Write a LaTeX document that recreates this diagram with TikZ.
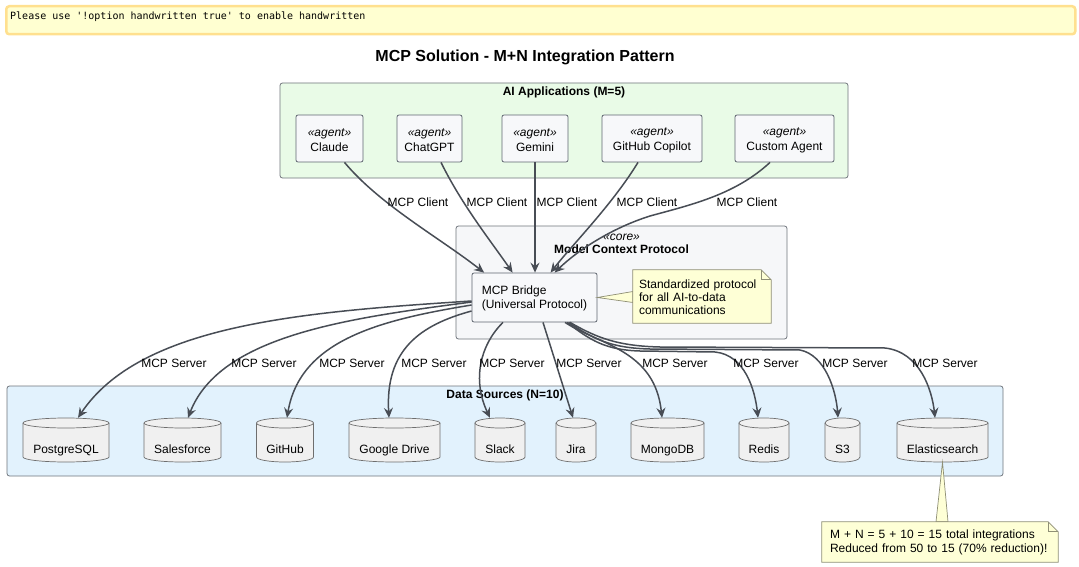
\documentclass[tikz,border=0pt]{standalone}
\usepackage{fontspec}
\setmainfont{Liberation Sans}
\newfontfamily\bannermono{DejaVu Sans Mono}
\usetikzlibrary{arrows.meta}
\definecolor{bannerfill}{HTML}{FFFFD1}
\definecolor{bannerline}{HTML}{FFE08F}
\definecolor{aifill}{HTML}{E9FBE7}
\definecolor{corefill}{HTML}{F6F7F9}
\definecolor{dsfill}{HTML}{E2F2FD}
\definecolor{grpline}{HTML}{70757C}
\definecolor{agentfill}{HTML}{F7F8FA}
\definecolor{agentline}{HTML}{5F6670}
\definecolor{dbfill}{HTML}{F0F0F0}
\definecolor{dbline}{HTML}{6E6E6E}
\definecolor{notefill}{HTML}{FEFFD6}
\definecolor{noteline}{HTML}{8F8F75}
\definecolor{edgecol}{HTML}{484D55}
\newcommand\dbcyl[4]{%
 \pgfmathsetmacro\dbL{#2-#3/2}\pgfmathsetmacro\dbR{#2+#3/2}%
 \pgfmathsetmacro\dbK{#3/2*0.5523}%
 \pgfmathsetmacro\dbA{#2-\dbK}\pgfmathsetmacro\dbB{#2+\dbK}%
 \filldraw[dbs] (\dbL,423) -- (\dbL,457) .. controls (\dbL,459.76) and (\dbA,462) .. (#2,462) .. controls (\dbB,462) and (\dbR,459.76) .. (\dbR,457) -- (\dbR,423) .. controls (\dbR,420.24) and (\dbB,418) .. (#2,418) .. controls (\dbA,418) and (\dbL,420.24) .. (\dbL,423) -- cycle;
 \draw[dbs] (\dbL,423) .. controls (\dbL,425.76) and (\dbA,428) .. (#2,428) .. controls (\dbB,428) and (\dbR,425.76) .. (\dbR,423);
 \node[dbtext, minimum width=#3] (#1) at (#2,440) {#4};
}
\begin{document}
\begin{tikzpicture}[x=1pt,y=-1pt,
  grp/.style={draw=grpline, line width=0.8pt, rounded corners=2.5pt, inner sep=0pt},
  grptitle/.style={font=\fontsize{12}{14}\selectfont\bfseries, inner sep=0pt},
  agent/.style={draw=agentline, fill=agentfill, line width=0.8pt, rounded corners=2pt, minimum height=47, align=center, inner sep=0pt, font=\fontsize{12}{15}\selectfont},
  agenttext/.style={align=center, inner sep=0pt, font=\fontsize{12}{15}\selectfont},
  dbs/.style={draw=dbline, fill=dbfill, line width=0.7pt},
  dbtext/.style={font=\fontsize{12}{14}\selectfont, text height=28.5pt, text depth=1.5pt, inner ysep=7pt, inner xsep=0pt},
  notebox/.style={font=\fontsize{12}{13}\selectfont, align=left, inner ysep=0pt},
  noteshape/.style={draw=noteline, fill=notefill, line width=0.7pt},
  conn/.style={draw=edgecol, line width=1.5pt, -{Stealth[length=10pt,width=9pt,inset=3.5pt]}},
  lbl/.style={font=\fontsize{12}{14}\selectfont, inner sep=0pt}
]
\path[fill=white] (0,0) rectangle (1079,567);
\useasboundingbox (0,0) rectangle (1079,567);

% banner
\node[draw=bannerline, fill=bannerfill, line width=2.5pt, rounded corners=3pt, minimum width=1069, minimum height=28, anchor=north west, inner sep=0pt] (banner) at (5,5) {};
\node[anchor=west, inner sep=0pt, font=\bannermono\fontsize{10}{12}\selectfont] (bannertext) at (10,17) {Please use '!option handwritten true' to enable handwritten};

% title
\node[font=\fontsize{16}{19}\selectfont\bfseries, inner sep=0pt] (title) at (525,57) {MCP Solution - M+N Integration Pattern};

% groups
\node[grp, fill=aifill, minimum width=568, minimum height=95] (ai) at (564,130.5) {};
\node[grptitle] (aititle) at (564,92.5) {AI Applications (M=5)};
\node[grp, fill=corefill, minimum width=331, minimum height=113] (core) at (621.5,282.5) {};
\node[grptitle, font=\fontsize{12}{14}\selectfont\itshape] (corest) at (621.5,237) {«core»};
\node[grptitle] (coretitle) at (621.5,249) {Model Context Protocol};
\node[grp, fill=dsfill, minimum width=996, minimum height=90] (ds) at (505,431) {};
\node[grptitle] (dstitle) at (505,395.5) {Data Sources (N=10)};

% agents
\node[agent, minimum width=67] (claude) at (329.5,138.5) {};
\node[agenttext] (claudet) at ([yshift=-1.5pt]claude.center) {\textit{«agent»}\\Claude};
\node[agent, minimum width=65] (chatgpt) at (429.5,138.5) {};
\node[agenttext] (chatgptt) at ([yshift=-1.5pt]chatgpt.center) {\textit{«agent»}\\ChatGPT};
\node[agent, minimum width=66] (gemini) at (535,138.5) {};
\node[agenttext] (geminit) at ([yshift=-1.5pt]gemini.center) {\textit{«agent»}\\Gemini};
\node[agent, minimum width=100] (copilot) at (652,138.5) {};
\node[agenttext] (copilott) at ([yshift=-1.5pt]copilot.center) {\textit{«agent»}\\GitHub Copilot};
\node[agent, minimum width=99] (custom) at (784.5,138.5) {};
\node[agenttext] (customt) at ([yshift=-1.5pt]custom.center) {\textit{«agent»}\\Custom Agent};

% bridge
\node[agent, minimum width=125, minimum height=49, align=left] (bridge) at (534.5,297.5) {};
\node[agenttext, align=left, font=\fontsize{12}{14}\selectfont] (bridget) at ([yshift=-1pt]bridge.center) {MCP Bridge\\(Universal Protocol)};

% note 1
\path[noteshape] (bridge.east) -- (633,291.5) -- (633,302.5) -- cycle;
\node[notebox, text width=126pt, inner xsep=6pt, minimum height=53] (n1) at (702,296.5) {};
\path[noteshape] (n1.north west) -- ([xshift=-10pt]n1.north east) -- ([yshift=-10pt]n1.north east) -- (n1.south east) -- (n1.south west) -- cycle;
\draw[noteshape, fill=none] ([xshift=-10pt]n1.north east) -- ([xshift=-10pt,yshift=-10pt]n1.north east) -- ([yshift=-10pt]n1.north east);
\node[notebox, text width=126pt, inner xsep=6pt, minimum height=53] (n1t) at ([yshift=-1pt]n1.center) {Standardized protocol\\for all AI-to-data\\communications};

% databases
\dbcyl{pg}{66}{86}{PostgreSQL}
\dbcyl{sf}{182.5}{77}{Salesforce}
\dbcyl{gh}{285}{57}{GitHub}
\dbcyl{gd}{394.5}{91}{Google Drive}
\dbcyl{sl}{500}{50}{Slack}
\dbcyl{ji}{576}{40}{Jira}
\dbcyl{mo}{667.5}{73}{MongoDB}
\dbcyl{re}{764}{50}{Redis}
\dbcyl{sss}{842.5}{35}{S3}
\dbcyl{es}{942.5}{91}{Elasticsearch}

% note 2
\node[notebox, text width=220pt, inner xsep=8pt, minimum height=40, font=\fontsize{12}{14}\selectfont] (n2) at (940,542) {};
\path[noteshape] (es.south) -- ([xshift=-4pt]n2.north) -- ([xshift=8pt]n2.north) -- cycle;
\path[noteshape] (n2.north west) -- ([xshift=-10pt]n2.north east) -- ([yshift=-10pt]n2.north east) -- (n2.south east) -- (n2.south west) -- cycle;
\draw[noteshape, fill=none] ([xshift=-10pt]n2.north east) -- ([xshift=-10pt,yshift=-10pt]n2.north east) -- ([yshift=-10pt]n2.north east);
\node[notebox, text width=220pt, inner xsep=8pt, minimum height=40, font=\fontsize{12}{14}\selectfont] (n2t) at (n2.center) {M + N = 5 + 10 = 15 total integrations\\Reduced from 50 to 15 (70\% reduction)!};

% client connectors
\draw[conn] ([xshift=15pt]claude.south) .. controls (380,205) and (440,238) .. ([xshift=12.5pt]bridge.north west);
\draw[conn] ([xshift=11.5pt]chatgpt.south) .. controls (462,205) and (490,240) .. ([xshift=41pt]bridge.north west);
\draw[conn] (gemini.south) -- (gemini.south |- bridge.north);
\draw[conn] ([xshift=-14pt]copilot.south) .. controls (612,205) and (572,245) .. ([xshift=79pt]bridge.north west);
\draw[conn] ([xshift=-14.5pt]custom.south) .. controls (735,195) and (690,205) .. (650,216) .. controls (612,228) and (578,250) .. ([xshift=83pt]bridge.north west);

\node[lbl] (cl1) at (418,202.5) {MCP Client};
\node[lbl] (cl2) at (497,202.5) {MCP Client};
\node[lbl] (cl3) at (567,202.5) {MCP Client};
\node[lbl] (cl4) at (647,202.5) {MCP Client};
\node[lbl] (cl5) at (747,202.5) {MCP Client};

% server connectors
\draw[conn] ([yshift=-3.5pt]bridge.west) .. controls (300,312) and (140,325) .. ([xshift=12pt]pg.north);
\draw[conn] ([yshift=-4.5pt]bridge.west) .. controls (350,318) and (220,335) .. ([xshift=5.5pt]sf.north);
\draw[conn] ([yshift=-7.5pt]bridge.west) .. controls (380,320) and (300,340) .. ([xshift=2pt]gh.north);
\draw[conn] ([yshift=-13.5pt]bridge.west) .. controls (420,325) and (385,350) .. ([xshift=-5.5pt]gd.north);
\draw[conn] ([xshift=-31.5pt]bridge.south) .. controls (480,345) and (472,380) .. ([xshift=-10pt]sl.north);
\draw[conn] ([xshift=8.5pt]bridge.south) -- ([xshift=-3pt]ji.north);
\draw[conn] ([xshift=30.5pt]bridge.south) .. controls (600,345) and (655,350) .. ([xshift=-5.5pt]mo.north);
\draw[conn] ([xshift=32.5pt]bridge.south) .. controls (590,340) and (605,350) .. (640,351) -- (715,352) .. controls (745,355) and (755,390) .. ([xshift=-6pt]re.north);
\draw[conn] ([xshift=34pt]bridge.south) .. controls (595,340) and (612,348) .. (650,349) -- (800,350) .. controls (825,355) and (836,390) .. ([xshift=-4.5pt]sss.north);
\draw[conn] ([xshift=35.5pt]bridge.south) .. controls (597,338) and (618,346) .. (660,347) -- (885,348) .. controls (920,352) and (932,390) .. ([xshift=-7.5pt]es.north);

\node[lbl] (sv1) at (174,363.5) {MCP Server};
\node[lbl] (sv2) at (264,363.5) {MCP Server};
\node[lbl] (sv3) at (352,363.5) {MCP Server};
\node[lbl] (sv4) at (434,363.5) {MCP Server};
\node[lbl] (sv5) at (512,363.5) {MCP Server};
\node[lbl] (sv6) at (589,363.5) {MCP Server};
\node[lbl] (sv7) at (675,363.5) {MCP Server};
\node[lbl] (sv8) at (766,363.5) {MCP Server};
\node[lbl] (sv9) at (855,363.5) {MCP Server};
\node[lbl] (sv10) at (945,363.5) {MCP Server};
\end{tikzpicture}
\end{document}
